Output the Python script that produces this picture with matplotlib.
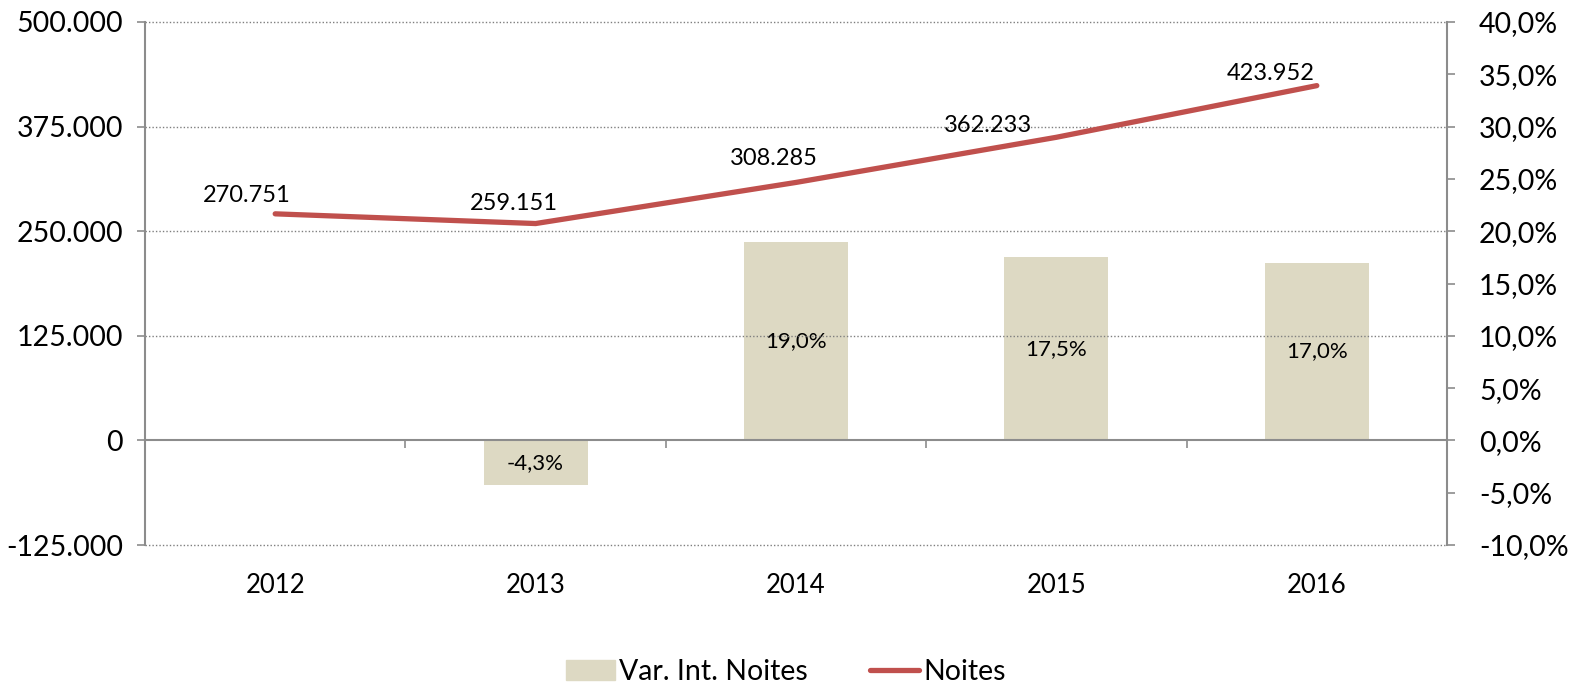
import matplotlib.pyplot as plt
from matplotlib.ticker import FuncFormatter, FixedLocator
from matplotlib.lines import Line2D
from matplotlib.patches import Patch

plt.rcParams['font.family'] = ['Lato', 'DejaVu Sans']

anos = ['2012', '2013', '2014', '2015', '2016']
noites = [270751, 259151, 308285, 362233, 423952]
var_noites = [None, -4.3, 19.0, 17.5, 17.0]

# deslocamento (em pixels) dos rótulos da linha
label_offsets = [(-28, 18), (-22, 20), (-22, 24), (-68, 12), (-46, 12)]

cor_barra = '#DDD9C3'
cor_linha = '#C0504D'
cinza = '#8C8C8C'

fig = plt.figure(figsize=(15.72, 6.86), dpi=100)
ax = fig.add_axes([145/1572, 1 - 545/686, (1447-145)/1572, (545-22)/686])
ax2 = ax.twinx()

x = list(range(len(anos)))

# barras no eixo secundário
xb = [i for i, v in zip(x, var_noites) if v is not None]
vb = [v for v in var_noites if v is not None]
bars = ax2.bar(xb, vb, width=0.4, color=cor_barra, zorder=2)
ax2.bar_label(bars, labels=[f'{v:.1f}%'.replace('.', ',') for v in vb],
              label_type='center', fontsize=16)

# linha no eixo principal
ax.plot(x, noites, color=cor_linha, lw=3.8, solid_capstyle='round', zorder=3)
for xi, v, off in zip(x, noites, label_offsets):
    ax.annotate(f'{v:,}'.replace(',', '.'), (xi, v), xytext=off,
                textcoords='offset pixels', ha='center', va='center', fontsize=17)

ax.set_zorder(ax2.get_zorder() + 1)
ax.patch.set_visible(False)

ax.set_xlim(-0.5, 4.5)
ax.set_ylim(-125000, 500000)
ax.set_yticks([-125000, 0, 125000, 250000, 375000, 500000])
ax.yaxis.set_major_formatter(FuncFormatter(lambda v, p: f'{int(v):,}'.replace(',', '.')))
ax2.set_ylim(-10, 40)
ax2.set_yticks(range(-10, 41, 5))
ax2.yaxis.set_major_formatter(FuncFormatter(lambda v, p: f'{v:.1f}%'.replace('.', ',')))

# grelha pontilhada
for yv in [-125000, 125000, 250000, 375000, 500000]:
    ax.axhline(yv, color='#7F7F7F', lw=1.0, ls=(0, (1, 1.5)), zorder=0, clip_on=False)

for a in (ax, ax2):
    for s in ['top', 'bottom']:
        a.spines[s].set_visible(False)
ax.spines['right'].set_visible(False)
ax2.spines['left'].set_visible(False)
ax.spines['left'].set_color(cinza)
ax.spines['left'].set_linewidth(1.5)
ax2.spines['right'].set_color(cinza)
ax2.spines['right'].set_linewidth(1.5)

ax.tick_params(axis='y', length=6, width=1.2, color=cinza, labelsize=20.5, pad=10)
ax2.tick_params(axis='y', length=6, width=1.2, color=cinza, labelsize=20.5, pad=17)

ax.set_xticks(x)
ax.set_xticklabels(anos)
ax.tick_params(axis='x', length=0, labelsize=18.5, pad=20)

# eixo das categorias na linha do zero
sec = ax.secondary_xaxis(0.2)
sec.spines['bottom'].set_color(cinza)
sec.spines['bottom'].set_linewidth(1.5)
sec.xaxis.set_major_locator(FixedLocator([0.5, 1.5, 2.5, 3.5]))
sec.tick_params(axis='x', length=6, width=1.2, color=cinza, labelbottom=False)

handles = [Patch(color=cor_barra, label='Var. Int. Noites'),
           Line2D([0], [0], color=cor_linha, lw=3.8, solid_capstyle='round', label='Noites')]
fig.legend(handles=handles, loc='center', bbox_to_anchor=(0.5, 1 - 672/686), ncol=2,
           frameon=False, fontsize=20.5, handlelength=1.7, handletextpad=0.15,
           columnspacing=2.2)

fig.savefig('out.png', dpi=100)
